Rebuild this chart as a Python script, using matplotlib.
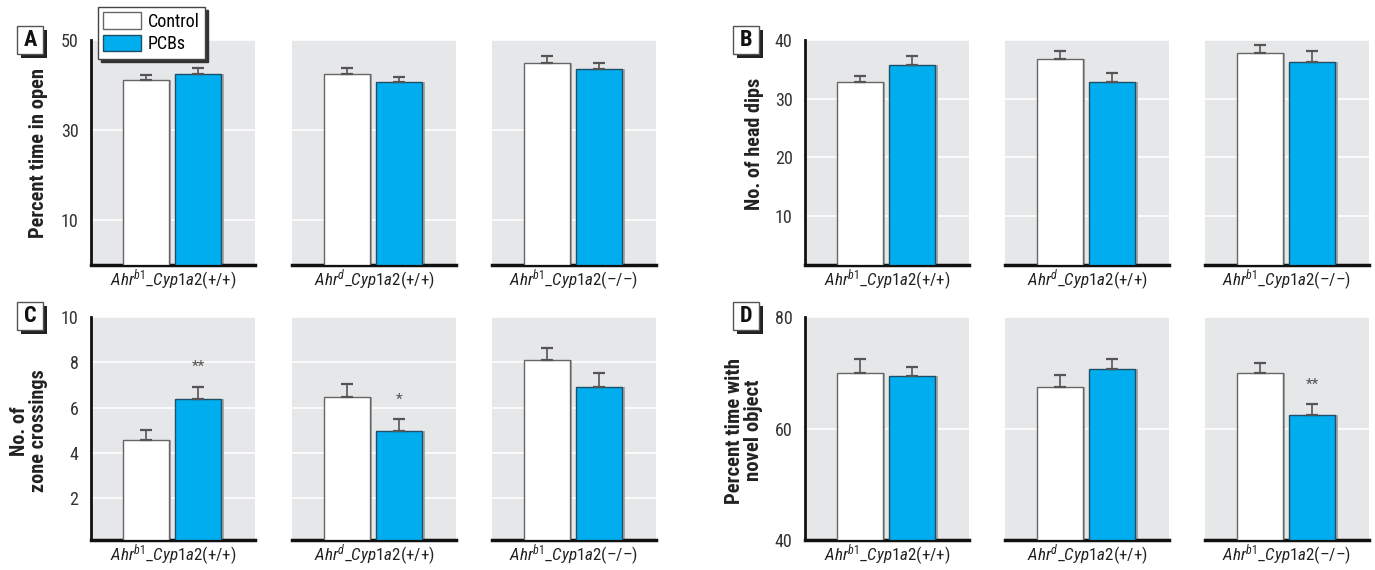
import matplotlib
matplotlib.use("Agg")
import matplotlib.pyplot as plt
import matplotlib.font_manager as fm
from matplotlib.patches import Rectangle

# pick a narrow sans if one is around, the original uses a condensed face
names = {f.name for f in fm.fontManager.ttflist}
narrow = [n for n in ["Liberation Sans Narrow", "Roboto Condensed", "Noto Sans Condensed",
                      "Open Sans Condensed", "DejaVu Sans Condensed"] if n in names]
FONT = narrow[0] if narrow else "Roboto"

plt.rcParams["font.family"] = [FONT, "DejaVu Sans"]
plt.rcParams["mathtext.fontset"] = "custom"
plt.rcParams["mathtext.it"] = FONT + ":italic"
plt.rcParams["mathtext.rm"] = FONT
plt.rcParams["mathtext.bf"] = FONT + ":bold"

# data
groups = [r"$\mathit{Ahr}^{b1}$_$\mathit{Cyp1a2}$(+/+)",
          r"$\mathit{Ahr}^{d}$_$\mathit{Cyp1a2}$(+/+)",
          r"$\mathit{Ahr}^{b1}$_$\mathit{Cyp1a2}$(–/–)"]
series = ["Control", "PCBs"]

open_mean = [[41.1, 42.4], [42.4, 40.7], [45.0, 43.5]]
open_err = [[1.1, 1.4], [1.4, 1.1], [1.4, 1.5]]

dips_mean = [[32.8, 35.7], [36.7, 32.9], [37.8, 36.3]]
dips_err = [[1.1, 1.5], [1.5, 1.5], [1.4, 1.9]]

cross_mean = [[4.57, 6.40], [6.48, 4.96], [8.12, 6.90]]
cross_err = [[0.45, 0.52], [0.57, 0.53], [0.51, 0.63]]

novel_mean = [[70.0, 69.4], [67.4, 70.6], [69.9, 62.5]]
novel_err = [[2.5, 1.7], [2.2, 1.8], [1.9, 1.9]]

stars_C = ["**", "*", ""]
stars_D = ["", "", "**"]

panels = [
    # letter, means, errs, ylim, yticks, ylabel, stars
    ("A", open_mean, open_err, (0, 50), [10, 30, 50], "Percent time in open", None),
    ("B", dips_mean, dips_err, (1.7, 40), [10, 20, 30, 40], "No. of head dips", None),
    ("C", cross_mean, cross_err, (0.15, 10), [2, 4, 6, 8, 10], "No. of\nzone crossings", stars_C),
    ("D", novel_mean, novel_err, (40, 80), [40, 60, 80], "Percent time with\nnovel object", stars_D),
]

W, H = 1375, 570
fig = plt.figure(figsize=(W / 100, H / 100), dpi=100)

blue = "#00aeef"
bg = "#e6e7e9"
edge = "#555555"

# pixel layout of the panels
col_x = {"A": [91, 292, 492], "B": [805, 1005, 1205],
         "C": [91, 292, 492], "D": [805, 1005, 1205]}
row_y = {"A": (40, 265), "B": (40, 265), "C": (317, 540), "D": (317, 540)}
ax_w = 164
ylab_pos = {"A": (-0.323, 0.5), "B": (-0.307, 0.54), "C": (-0.378, 0.49), "D": (-0.372, 0.49)}
ylab_len = {"A": 170, "B": 132, "C": 122, "D": 146}   # longest line, px
letter_box = {"A": (17, 26), "B": (733, 26), "C": (17, 302), "D": (733, 302)}


def px_box(x0, y0, x1, y1):
    return [x0 / W, 1 - y1 / H, (x1 - x0) / W, (y1 - y0) / H]


first_bars = None
ylabels = {}
xlabels = []
for letter, means, errs, ylim, yticks, ylabel, stars in panels:
    y0, y1 = row_y[letter]
    for i, x0 in enumerate(col_x[letter]):
        ax = fig.add_axes(px_box(x0, y0, x0 + ax_w, y1))
        ax.set_facecolor(bg)
        xs = [0, 1]
        heights = [m - ylim[0] for m in means[i]]
        bars = ax.bar(xs, heights, bottom=ylim[0], width=0.88,
                      color=["white", blue], edgecolor=["#666666", "#1f4f66"],
                      linewidth=1.0, zorder=3)
        # thin grey drop shadow on the right side of each bar
        ax.bar([x + 0.04 for x in xs], heights, bottom=ylim[0],
               width=0.88, color="#a8a8a8", zorder=2.5)
        if first_bars is None:
            first_bars = bars
        ax.errorbar(xs, means[i], yerr=[[0, 0], errs[i]], fmt="none",
                    ecolor=edge, elinewidth=1.2, capsize=4, capthick=1.6, zorder=4)
        if stars:
            for j, s in enumerate(["", stars[i]]):
                if s:
                    ax.annotate(s, (xs[j], means[i][j] + errs[i][j]),
                                xytext=(0, 14), textcoords="offset points",
                                ha="center", va="center", fontsize=11, color="#555555")
        ax.set_xlim(-1.05, 2.08)
        ax.set_ylim(*ylim)
        ax.set_yticks(yticks)
        ax.yaxis.grid(True, color="white", linewidth=1.2, zorder=1)
        ax.set_axisbelow(True)
        ax.set_xticks([])
        ax.tick_params(axis="y", length=0, pad=9, labelsize=13, labelcolor="#333333")
        for sp in ["top", "right"]:
            ax.spines[sp].set_visible(False)
        ax.spines["bottom"].set_linewidth(2.5)
        ax.spines["bottom"].set_color("#111111")
        ax.spines["left"].set_linewidth(2)
        ax.spines["left"].set_color("#111111")
        if i == 0:
            ylabels[letter] = ax.set_ylabel(ylabel, fontsize=16, fontweight="bold",
                                            color="#222222", linespacing=0.95, va="center")
            ax.yaxis.set_label_coords(*ylab_pos[letter])
        else:
            ax.spines["left"].set_visible(False)
            ax.set_yticklabels([])
        xlabels.append(ax.set_xlabel(groups[i], fontsize=13, color="#222222", labelpad=2))

    # panel letter with drop shadow
    bx, by = letter_box[letter]
    fig.add_artist(Rectangle(((bx + 4) / W, 1 - (by + 32) / H), 26 / W, 28 / H,
                             transform=fig.transFigure, facecolor="#222222",
                             edgecolor="none"))
    fig.add_artist(Rectangle((bx / W, 1 - (by + 28) / H), 26 / W, 28 / H,
                             transform=fig.transFigure, facecolor="white",
                             edgecolor="#555555", linewidth=1))
    fig.text((bx + 13) / W, 1 - (by + 14) / H, letter, ha="center", va="center",
             fontsize=16, fontweight="bold", color="#111111")

leg = fig.legend(first_bars, series, loc="upper left",
                 bbox_to_anchor=(98 / W, 1 - 7 / H), frameon=True, fancybox=False,
                 shadow={"color": "#333333", "alpha": 1}, edgecolor="#444444",
                 fontsize=13, handlelength=2.1, handleheight=1.0,
                 borderpad=0.3, labelspacing=0.25, handletextpad=0.35,
                 borderaxespad=0)
leg.get_frame().set_linewidth(1)

# scale label sizes so their lengths match the original
fig.canvas.draw()
r = fig.canvas.get_renderer()
for letter, t in ylabels.items():
    h = t.get_window_extent(r).height
    t.set_fontsize(t.get_fontsize() * ylab_len[letter] / h)
wx = xlabels[0].get_window_extent(r).width
for t in xlabels:
    t.set_fontsize(t.get_fontsize() * 126 / wx)

fig.savefig("out.png", dpi=100)
